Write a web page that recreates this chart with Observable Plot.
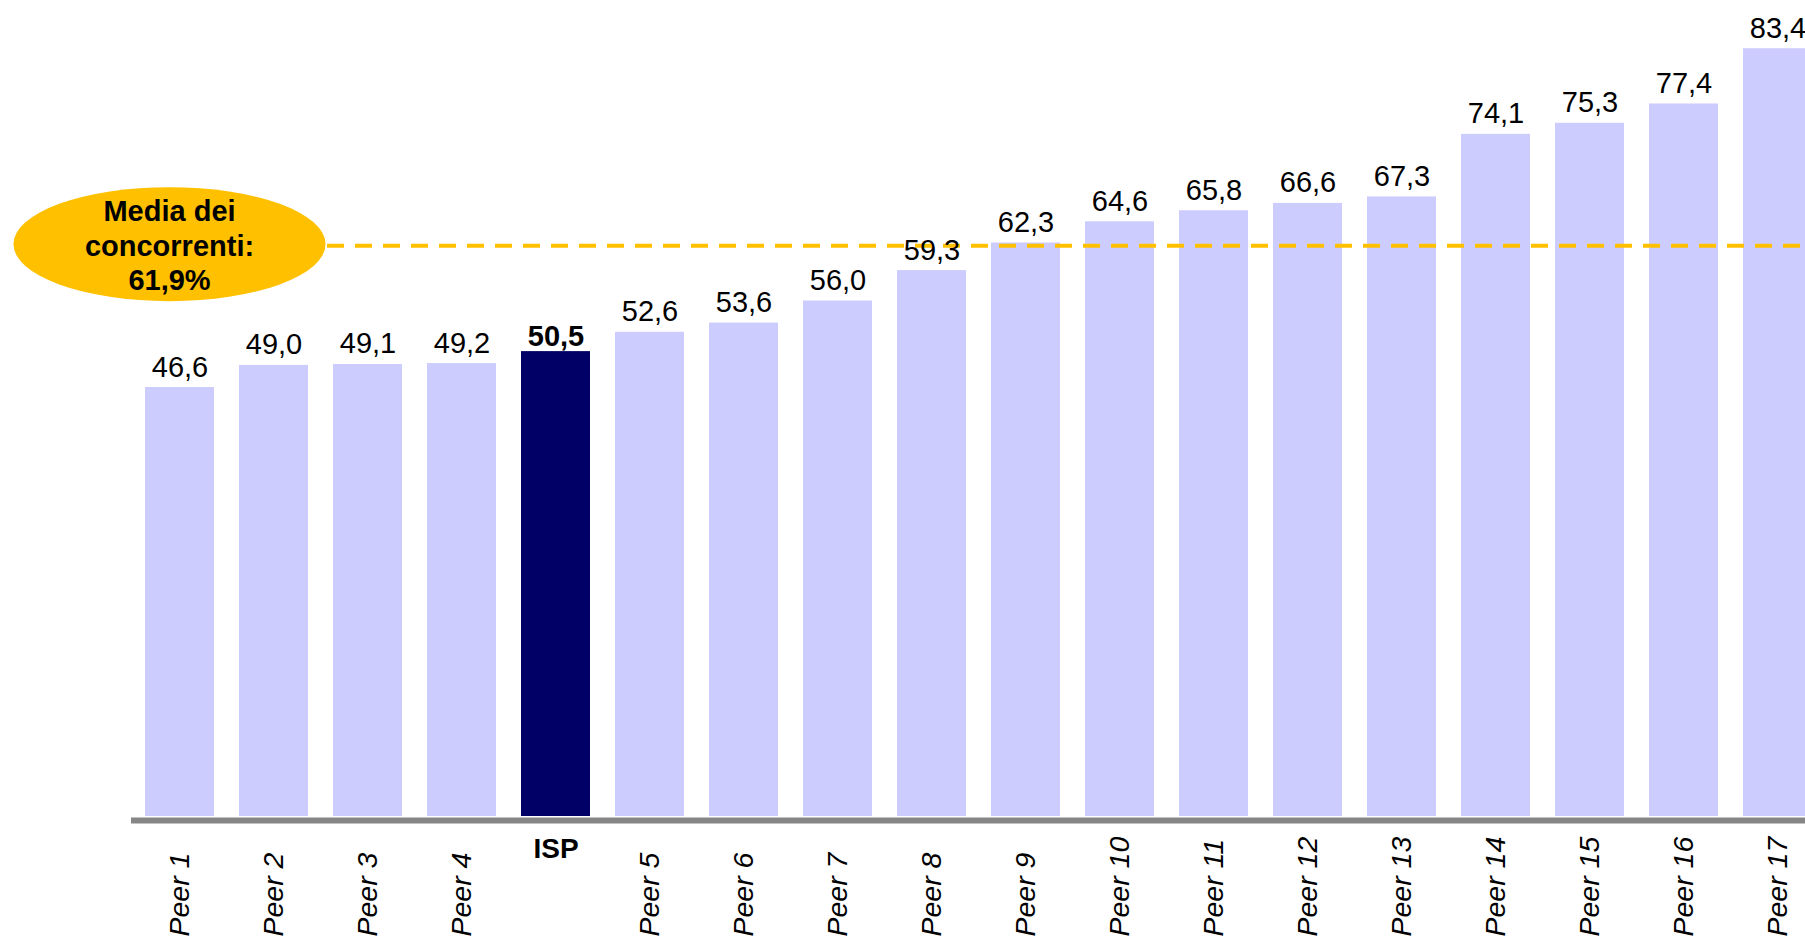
<!DOCTYPE html>
<html>
<head>
<meta charset="utf-8">
<script src="https://cdn.jsdelivr.net/npm/d3@7"></script>
<script src="https://cdn.jsdelivr.net/npm/@observablehq/plot@0.6"></script>
<style>
  html, body { margin: 0; padding: 0; background: white; overflow: hidden; }
  #chart { width: 1805px; height: 940px; }
</style>
</head>
<body>
<div id="chart"></div>
<script>
const categories = ["Peer 1","Peer 2","Peer 3","Peer 4","ISP","Peer 5","Peer 6","Peer 7","Peer 8","Peer 9","Peer 10","Peer 11","Peer 12","Peer 13","Peer 14","Peer 15","Peer 16","Peer 17"];
const values = [46.6, 49.0, 49.1, 49.2, 50.5, 52.6, 53.6, 56.0, 59.3, 62.3, 64.6, 65.8, 66.6, 67.3, 74.1, 75.3, 77.4, 83.4];
const highlight = "ISP";
const meanValue = 61.9;
const meanLabel = ["Media dei", "concorrenti:", "61,9%"];

const data = categories.map((c, i) => ({cat: c, value: values[i]}));
const fmt = v => v.toFixed(1).replace(".", ",");
const font = "'Liberation Sans', Arial, Helvetica, sans-serif";

const ellipseMark = (index, scales) => {
  const g = d3.create("svg:g");
  const cx = scales.x(categories[0]) + scales.x.bandwidth() / 2 - 10;
  const cy = scales.y(meanValue) - 2;
  g.append("ellipse")
    .attr("cx", cx).attr("cy", cy)
    .attr("rx", 156).attr("ry", 57)
    .attr("fill", "#FFC000");
  const offsets = [-23, 12, 46];
  meanLabel.forEach((t, i) => {
    g.append("text")
      .attr("x", cx).attr("y", cy + offsets[i])
      .attr("text-anchor", "middle")
      .attr("font-family", font)
      .attr("font-size", 29)
      .attr("font-weight", "bold")
      .attr("fill", "black")
      .text(t);
  });
  return g.node();
};

const chart = Plot.plot({
  width: 1805,
  height: 940,
  marginTop: 0,
  marginLeft: 131,
  marginRight: 0,
  marginBottom: 124,
  style: {fontFamily: font, fontSize: "29px", background: "white", color: "black"},
  x: {domain: categories, range: [131.5, 1825.7], paddingInner: 0.266, paddingOuter: 0.133, axis: null},
  y: {domain: [0, 88.64], axis: null},
  marks: [
    Plot.barY(data, {x: "cat", y: "value", fill: d => d.cat === highlight ? "#000066" : "#CCCCFF"}),
    Plot.ruleY([0], {stroke: "#868686", strokeWidth: 6, dy: 4}),
    Plot.ruleY([meanValue], {stroke: "#FFC000", strokeWidth: 4, strokeDasharray: "17,11", insetLeft: 196, dy: -1}),
    ellipseMark,
    Plot.text(data.filter(d => d.cat !== highlight), {x: "cat", y: "value", text: d => fmt(d.value), dy: -11, lineAnchor: "bottom", fontSize: 29, fill: "black"}),
    Plot.text(data.filter(d => d.cat === highlight), {x: "cat", y: "value", text: d => fmt(d.value), dy: -6, lineAnchor: "bottom", fontSize: 29, fontWeight: "bold", fill: "black"}),
    Plot.text(data.filter(d => d.cat !== highlight), {x: "cat", y: () => 0, text: "cat", rotate: -90, textAnchor: "start", lineAnchor: "middle", dy: 120, fontSize: 28.5, fontStyle: "italic", fill: "black"}),
    Plot.text(data.filter(d => d.cat === highlight), {x: "cat", y: () => 0, text: "cat", lineAnchor: "bottom", dy: 41, fontSize: 28, fontWeight: "bold", fill: "black"})
  ]
});
document.getElementById("chart").appendChild(chart);
</script>
</body>
</html>
